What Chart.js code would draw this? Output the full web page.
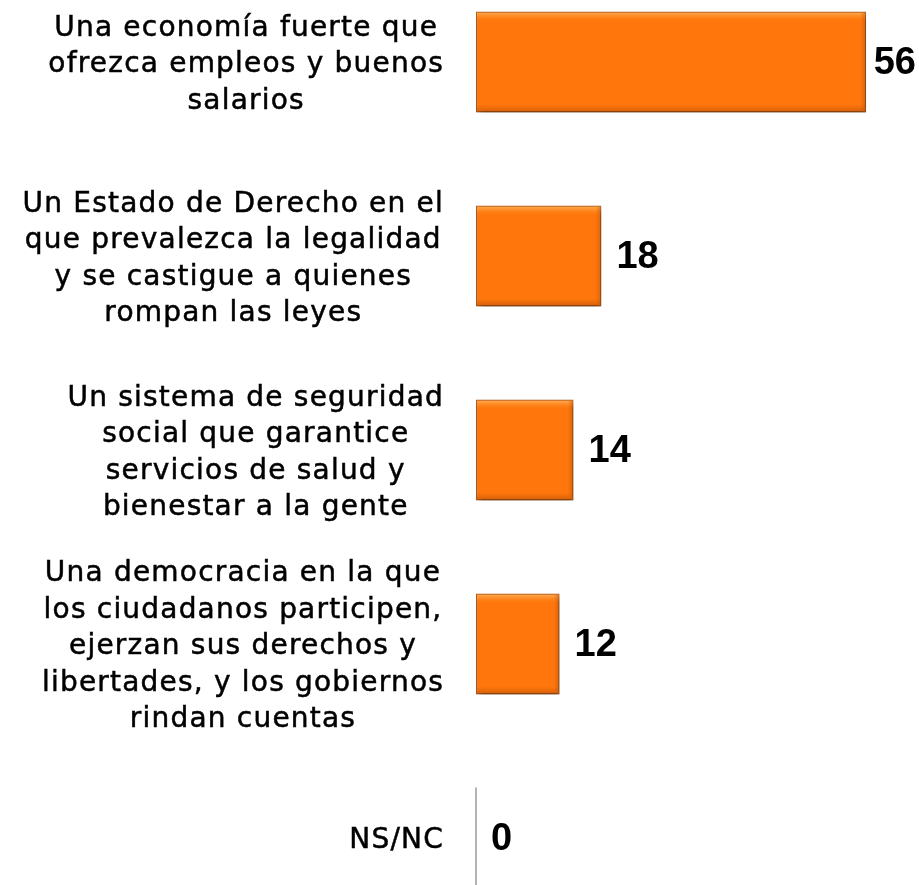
<!DOCTYPE html>
<html lang="es">
  <head>
    <meta charset="UTF-8" />
    <title>Gráfica</title>
    <script src="https://cdn.jsdelivr.net/npm/chart.js"></script>
    <style>
      html, body { margin: 0; padding: 0; background: #fff; }
      #wrap { width: 919px; height: 885px; }
    </style>
  </head>
  <body>
    <div id="wrap"><canvas id="grafica"></canvas></div>
    <script>
      // datos
      const labels = [
        ["Una economía fuerte que", "ofrezca empleos y buenos", "salarios"],
        ["Un Estado de Derecho en el", "que prevalezca la legalidad", "y se castigue a quienes", "rompan las leyes"],
        ["Un sistema de seguridad", "social que garantice", "servicios de salud y", "bienestar a la gente"],
        ["Una democracia en la que", "los ciudadanos participen,", "ejerzan sus derechos y", "libertades, y los gobiernos", "rindan cuentas"],
        ["NS/NC"],
      ];
      const valores = [56, 18, 14, 12, 0];

      // sombra de las barras
      const sombra = {
        id: "sombra",
        beforeDatasetsDraw(chart) {
          const ctx = chart.ctx;
          ctx.save();
          ctx.shadowColor = "rgba(0,0,0,0.4)";
          ctx.shadowBlur = 5;
          ctx.shadowOffsetX = 1;
          ctx.shadowOffsetY = 4;
        },
        afterDatasetsDraw(chart) {
          chart.ctx.restore();
        },
      };

      // etiquetas de categoría: cada bloque centrado en sí mismo y alineado a la derecha
      const categorias = {
        id: "categorias",
        afterDraw(chart) {
          const ctx = chart.ctx;
          const yScale = chart.scales.y;
          const right = yScale.right - 32;
          const lh = 36.5;
          ctx.save();
          ctx.font = "28px 'DejaVu Sans', sans-serif";
          ctx.letterSpacing = "1.2px";
          ctx.fillStyle = "#000";
          ctx.strokeStyle = "#000";
          ctx.lineWidth = 0.5;
          ctx.textAlign = "center";
          ctx.textBaseline = "middle";
          labels.forEach(function (lineas, i) {
            const yc = yScale.getPixelForTick(i) + 3;
            let ancho = 0;
            lineas.forEach(function (t) {
              ancho = Math.max(ancho, ctx.measureText(t).width);
            });
            const xc = right - ancho / 2;
            const y0 = yc - ((lineas.length - 1) * lh) / 2;
            lineas.forEach(function (t, k) {
              ctx.fillText(t, xc, y0 + k * lh);
              ctx.strokeText(t, xc, y0 + k * lh);
            });
          });
          ctx.restore();
        },
      };

      // relieve, etiquetas de valor y línea del cero
      const etiquetas = {
        id: "etiquetas",
        afterDatasetsDraw(chart) {
          const ctx = chart.ctx;
          const meta = chart.getDatasetMeta(0);
          ctx.save();
          meta.data.forEach(function (bar, i) {
            const top = bar.y - bar.height / 2;
            const bottom = bar.y + bar.height / 2;
            const left = bar.base;
            const w = bar.x - bar.base;
            if (w > 4) {
              // brillo arriba
              let g = ctx.createLinearGradient(0, top, 0, top + 9);
              g.addColorStop(0, "rgba(255,190,110,0.85)");
              g.addColorStop(1, "rgba(255,150,40,0)");
              ctx.fillStyle = g;
              ctx.fillRect(left + 1, top + 1, w - 2, 9);
              // sombra abajo
              g = ctx.createLinearGradient(0, bottom - 8, 0, bottom);
              g.addColorStop(0, "rgba(200,90,10,0)");
              g.addColorStop(1, "rgba(190,85,10,0.7)");
              ctx.fillStyle = g;
              ctx.fillRect(left + 1, bottom - 8, w - 2, 7);
              // lado derecho
              g = ctx.createLinearGradient(bar.x - 6, 0, bar.x, 0);
              g.addColorStop(0, "rgba(200,90,10,0)");
              g.addColorStop(1, "rgba(190,85,10,0.6)");
              ctx.fillStyle = g;
              ctx.fillRect(bar.x - 6, top + 1, 5, bar.height - 2);
            }
          });

          ctx.font = "bold 38px 'Liberation Sans', Arial, sans-serif";
          ctx.fillStyle = "#000";
          ctx.textBaseline = "middle";
          meta.data.forEach(function (bar, i) {
            const txt = String(valores[i]);
            const tw = ctx.measureText(txt).width;
            let x = bar.x + 15;
            if (x + tw > chart.width - 3) x = chart.width - 3 - tw;
            ctx.fillText(txt, x, bar.y + 2);
            if (valores[i] === 0) {
              ctx.strokeStyle = "#9a9a9a";
              ctx.lineWidth = 1.5;
              ctx.beginPath();
              ctx.moveTo(bar.base, bar.y - bar.height / 2);
              ctx.lineTo(bar.base, bar.y + bar.height / 2);
              ctx.stroke();
            }
          });
          ctx.restore();
        },
      };

      new Chart(document.getElementById("grafica").getContext("2d"), {
        type: "bar",
        data: {
          labels: labels,
          datasets: [
            {
              data: valores,
              backgroundColor: "#ff760c",
              borderColor: "#b95a12",
              borderWidth: 1.5,
              borderSkipped: false,
              barPercentage: 0.52,
              categoryPercentage: 1,
              clip: false,
            },
          ],
        },
        options: {
          indexAxis: "y",
          responsive: true,
          maintainAspectRatio: false,
          animation: false,
          layout: { padding: { top: 62, bottom: 47, left: 0, right: 25 } },
          plugins: { legend: { display: false }, tooltip: { enabled: false } },
          scales: {
            x: { display: false, min: 0, max: 60 },
            y: {
              offset: false,
              border: { display: false },
              grid: { display: false, drawTicks: false },
              ticks: { display: false },
              afterFit: function (scale) {
                scale.width = 476;
                scale.paddingTop = 0;
                scale.paddingBottom = 0;
              },
            },
          },
        },
        plugins: [sombra, categorias, etiquetas],
      });
    </script>
  </body>
</html>
